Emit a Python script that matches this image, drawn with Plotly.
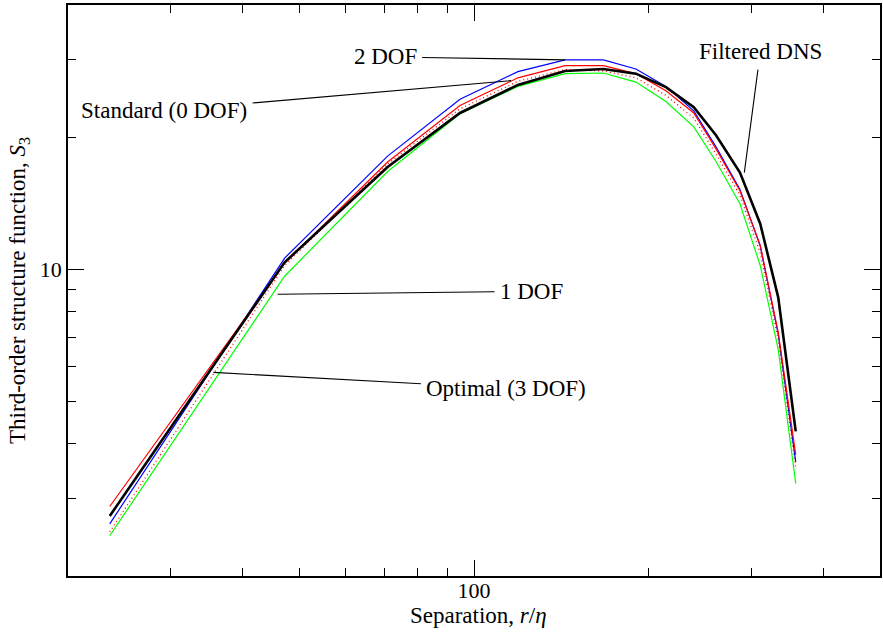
import numpy as np
import plotly.graph_objects as go

# Separation r/eta (vertex positions)
r = [23.6, 47.2, 71.0, 94.6, 119.0, 143.5, 167.0, 190.0, 214.0, 239.0, 261.0, 287.0, 311.0, 334.0, 358.0]

filtered_dns = [2.74, 10.37, 17.1, 22.7, 26.3, 28.3, 28.6, 27.9, 26.0, 23.4, 20.2, 16.6, 12.7, 8.63, 4.27]
standard_0dof = [2.88, 10.32, 17.55, 23.6, 27.3, 29.1, 29.1, 27.9, 25.5, 22.7, 18.8, 15.1, 11.35, 7.18, 3.78]
dof_2 = [2.63, 10.6, 18.1, 24.4, 28.2, 30.0, 30.0, 28.6, 26.1, 22.95, 19.0, 15.2, 11.3, 7.11, 3.64]
dof_1 = [2.47, 9.64, 16.7, 22.6, 26.1, 27.9, 28.0, 26.7, 24.1, 21.1, 17.6, 14.1, 10.2, 6.57, 3.25]
optimal_3dof = [2.52, 10.2, 17.37, 23.2, 26.8, 28.5, 28.3, 27.3, 24.9, 22.1, 18.3, 14.75, 10.9, 6.92, 3.53]

x_major = [100]
x_minor = [30, 40, 50, 60, 70, 80, 90, 200, 300, 400]
y_major = [10]
y_minor = [3, 4, 5, 6, 7, 8, 9, 20, 30]

fig = go.Figure()
fig.add_trace(go.Scatter(x=r, y=dof_1, mode="lines", name="1 DOF",
                         line=dict(color="#00ff00", width=1.2)))
fig.add_trace(go.Scatter(x=r, y=optimal_3dof, mode="lines", name="Optimal (3 DOF)",
                         line=dict(color="#ff0000", width=1.3, dash="1px,3px")))
fig.add_trace(go.Scatter(x=r, y=dof_2, mode="lines", name="2 DOF",
                         line=dict(color="#0000ff", width=1.2)))
fig.add_trace(go.Scatter(x=r, y=standard_0dof, mode="lines", name="Standard (0 DOF)",
                         line=dict(color="#ff0000", width=1.2)))
fig.add_trace(go.Scatter(x=r, y=filtered_dns, mode="lines", name="Filtered DNS",
                         line=dict(color="#000000", width=2.6)))

font = "Liberation Serif, Times New Roman, serif"
FS_ANN = 23
FS_TICK = 22
FS_TITLE = 23
L = np.log10

def label(text, x, y, ax, ay):
    fig.add_annotation(x=L(x), y=L(y), xref="x", yref="y", text=text,
                       showarrow=True, arrowhead=0, arrowwidth=1.1, arrowcolor="black",
                       ax=ax, ay=ay, axref="pixel", ayref="pixel", standoff=0,
                       borderpad=5, font=dict(family=font, size=FS_ANN, color="black"))

label("2 DOF", r[5], dof_2[5], -180, -3)
label("Standard (0 DOF)", 115.8, 26.9, -347, 30)
label("1 DOF", 45.9, 8.77, 254, -3)
label("Optimal (3 DOF)", 35.6, 5.82, 293, 16)
label("Filtered DNS", 292, 16.6, 16, -121)

# x-axis title as paper-positioned text
fig.add_annotation(x=0.505, y=0.0, xref="paper", yref="paper", yshift=-39,
                   text="Separation, <i>r</i>/<i>η</i>", showarrow=False,
                   xanchor="center", yanchor="middle",
                   font=dict(family=font, size=FS_TITLE, color="black"))

axis_common = dict(type="log", showline=True, linecolor="black", linewidth=1.5,
                   mirror="ticks", ticks="inside", ticklen=16, tickwidth=1.2,
                   tickcolor="black", showgrid=False, zeroline=False, automargin=False,
                   tickfont=dict(family=font, size=FS_TICK, color="black"))

fig.update_xaxes(**axis_common, range=[L(20), L(500)], tickmode="array",
                 tickvals=x_major, ticktext=[str(v) for v in x_major],
                 ticklabelstandoff=-6,
                 minor=dict(tickmode="array", tickvals=x_minor, ticks="inside",
                            ticklen=8, tickwidth=1.2, tickcolor="black", showgrid=False))
fig.update_yaxes(**axis_common, range=[L(2), L(40)], tickmode="array",
                 tickvals=y_major, ticktext=[str(v) for v in y_major],
                 minor=dict(tickmode="array", tickvals=y_minor, ticks="inside",
                            ticklen=8, tickwidth=1.2, tickcolor="black", showgrid=False),
                 title=dict(text="Third-order structure function, <i>S</i><sub>3</sub>",
                            standoff=8, font=dict(family=font, size=FS_TITLE, color="black")))

fig.update_layout(width=883, height=637, showlegend=False,
                  margin=dict(l=68, r=3, t=5, b=61),
                  plot_bgcolor="white", paper_bgcolor="white",
                  font=dict(family=font, size=FS_ANN, color="black"))

fig.write_html("out.html", config={"displayModeBar": False},
               post_script="document.body.style.margin='0';")
